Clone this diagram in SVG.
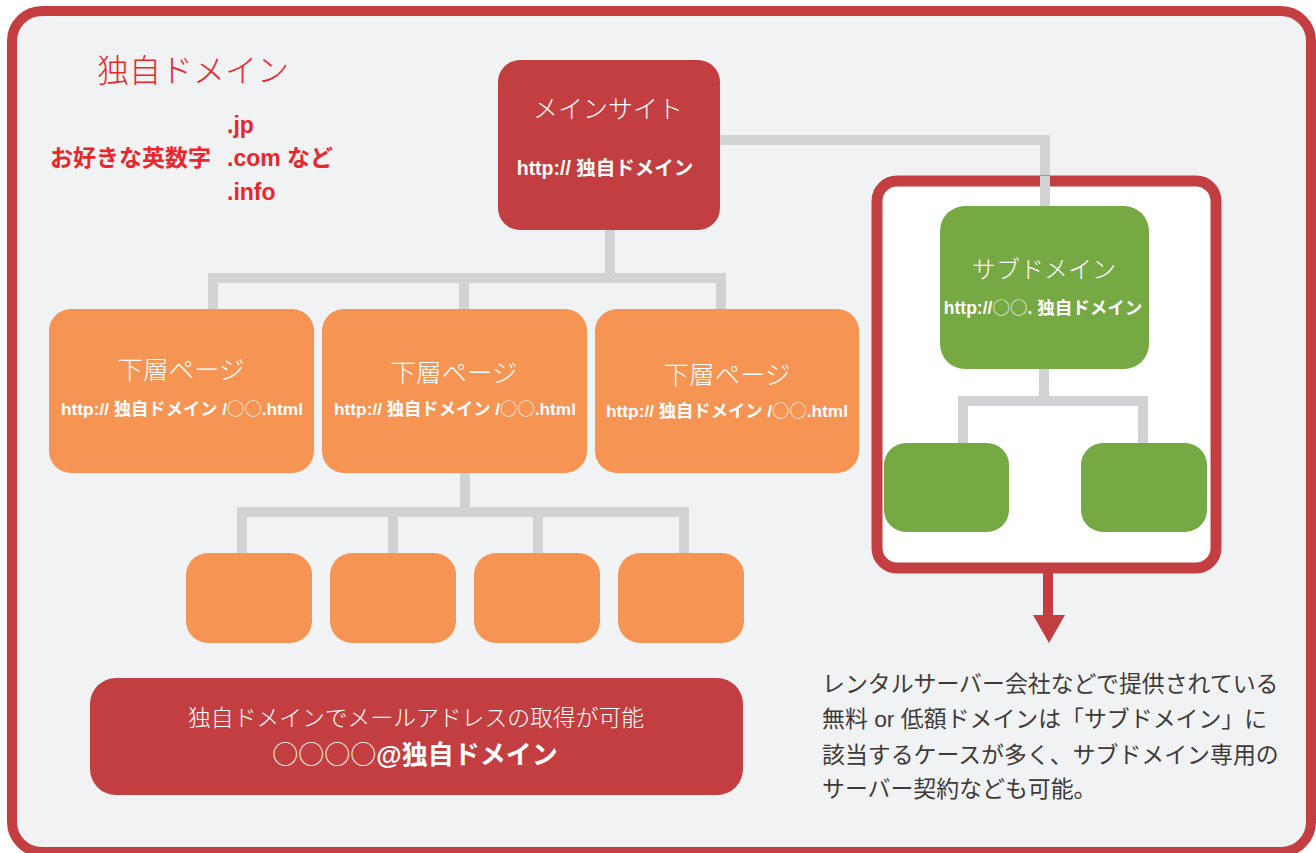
<svg xmlns="http://www.w3.org/2000/svg" width="1316" height="853" viewBox="0 0 1316 853">
<style>
.t{font-family:"Liberation Sans","Noto Sans CJK JP",sans-serif;}
.w{fill:#ffffff;}
.lt{font-weight:300;}
.b{font-weight:bold;}
.n{font-weight:300;font-family:"Noto Sans CJK JP",sans-serif;}
.red{fill:#e8262b;}
.con{fill:none;stroke:#d1d2d4;stroke-width:10;}
.orange{fill:#f59453;}
.green{fill:#76a844;}
.dark{fill:#c33e40;}
</style>
<rect x="12" y="11" width="1299" height="841" rx="30" fill="#f1f2f4" stroke="#c33e40" stroke-width="10"/>
<g id="connectors">
<path class="con" d="M610 230V278M213 310V278H721V310M464 278V310"/>
<path class="con" d="M720 140H1045V206"/>
<path class="con" d="M465 473V512M242 553V512H684V553M393 512V553M538 512V553"/>
</g>
<g id="subdomain-frame">
<rect x="877" y="181" width="339" height="387" rx="20" fill="#ffffff" stroke="#c33e40" stroke-width="11"/>
<path d="M1045 176V206" class="con"/>
<path class="con" d="M1044 369V401M963 443V401H1143V443"/>
<path d="M1048 573V618" stroke="#c33e40" stroke-width="10" fill="none"/>
<polygon points="1033,615 1065,615 1049,643" fill="#c33e40"/>
</g>
<g id="title">
<text class="t red lt" x="97" y="82" font-size="32">独自ドメイン</text>
<text class="t red b" font-size="23" x="227" y="133">.jp</text>
<text class="t red b" font-size="23" x="50" y="166">お好きな英数字</text>
<text class="t red b" font-size="23" x="227" y="166">.com など</text>
<text class="t red b" font-size="23" x="227" y="200">.info</text>
</g>
<g id="main-site">
<rect x="498" y="60" width="222" height="170" rx="22" class="dark"/>
<text class="t w lt" x="608" y="118" font-size="25" text-anchor="middle">メインサイト</text>
<text class="t w b" x="605" y="175" font-size="19.5" text-anchor="middle">http:// 独自ドメイン</text>
</g>
<g id="page1">
<rect x="49" y="309" width="265" height="164" rx="22" class="orange"/>
<text class="t w lt" x="181" y="379" font-size="25.5" text-anchor="middle">下層ページ</text>
<text class="t w b" x="182" y="415" font-size="17.3" text-anchor="middle">http:// 独自ドメイン /<tspan class="n">○○</tspan>.html</text>
</g>
<g id="page2">
<rect x="322" y="309" width="265" height="164" rx="22" class="orange"/>
<text class="t w lt" x="454" y="382" font-size="25.5" text-anchor="middle">下層ページ</text>
<text class="t w b" x="455" y="415" font-size="17.3" text-anchor="middle">http:// 独自ドメイン /<tspan class="n">○○</tspan>.html</text>
</g>
<g id="page3">
<rect x="595" y="309" width="264" height="164" rx="22" class="orange"/>
<text class="t w lt" x="727" y="384" font-size="25.5" text-anchor="middle">下層ページ</text>
<text class="t w b" x="727" y="417" font-size="17.3" text-anchor="middle">http:// 独自ドメイン /<tspan class="n">○○</tspan>.html</text>
</g>
<g id="sub-page1"><rect x="186" y="553" width="126" height="90" rx="22" class="orange"/></g>
<g id="sub-page2"><rect x="330" y="553" width="126" height="90" rx="22" class="orange"/></g>
<g id="sub-page3"><rect x="474" y="553" width="126" height="90" rx="22" class="orange"/></g>
<g id="sub-page4"><rect x="618" y="553" width="126" height="90" rx="22" class="orange"/></g>
<g id="subdomain">
<rect x="940" y="206" width="209" height="163" rx="25" class="green"/>
<text class="t w lt" x="1044" y="278" font-size="24" text-anchor="middle">サブドメイン</text>
<text class="t w b" x="1043" y="314" font-size="17.5" text-anchor="middle">http://<tspan class="n">○○</tspan>. 独自ドメイン</text>
</g>
<g id="sub-child1"><rect x="884" y="443" width="125" height="89" rx="22" class="green"/></g>
<g id="sub-child2"><rect x="1081" y="443" width="126" height="89" rx="22" class="green"/></g>
<g id="mail">
<rect x="90" y="678" width="653" height="117" rx="26" class="dark"/>
<text class="t w lt" x="416" y="726" font-size="22.8" text-anchor="middle">独自ドメインでメールアドレスの取得が可能</text>
<text class="t w b" x="415" y="764" font-size="26" text-anchor="middle"><tspan class="n">○○○○</tspan>@独自ドメイン</text>
</g>
<g id="note">
<text class="t" fill="#3e3a39" font-size="22.9" x="822" y="692">レンタルサーバー会社などで提供されている</text>
<text class="t" fill="#3e3a39" font-size="22.9" x="822" y="727">無料 or 低額ドメインは「サブドメイン」に</text>
<text class="t" fill="#3e3a39" font-size="22.9" x="822" y="763">該当するケースが多く、サブドメイン専用の</text>
<text class="t" fill="#3e3a39" font-size="22.9" x="822" y="797">サーバー契約なども可能。</text>
</g>
</svg>
